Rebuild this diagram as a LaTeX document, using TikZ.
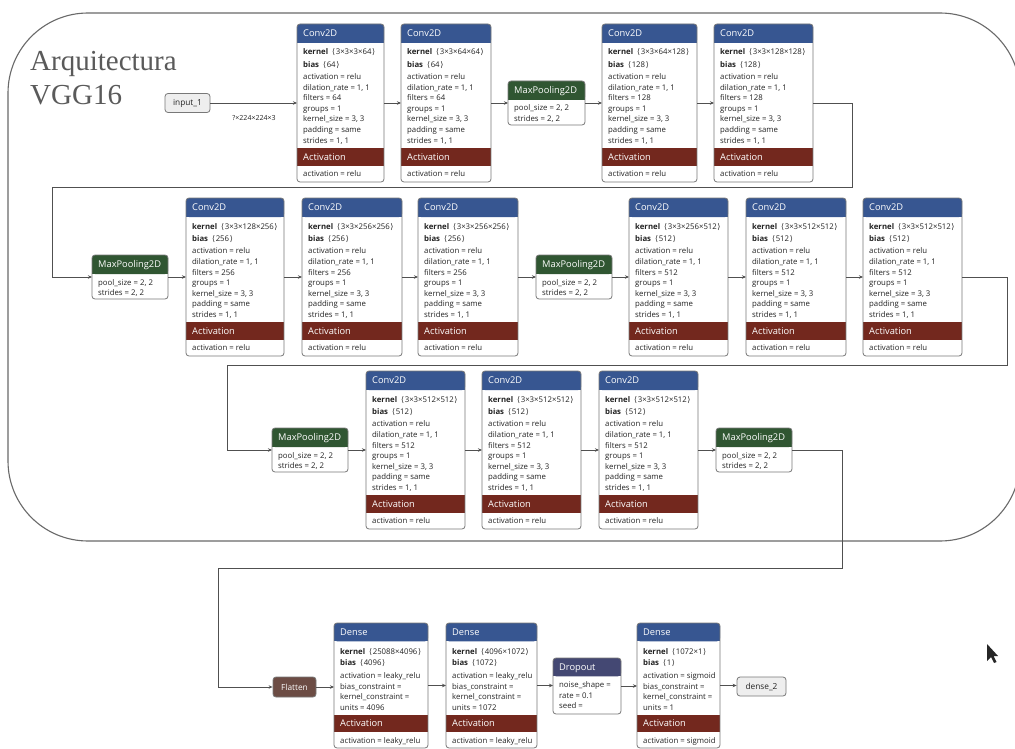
\documentclass[tikz,border=0pt]{standalone}
\usepackage{fontspec}
\setmainfont{Open Sans}
\newfontfamily\titlefont{Liberation Serif}
\newfontfamily\dv{DejaVu Sans}
\usetikzlibrary{arrows.meta}
\definecolor{convc}{RGB}{55,86,145}
\definecolor{actc}{RGB}{115,40,30}
\definecolor{poolc}{RGB}{48,86,50}
\definecolor{dropc}{RGB}{68,72,115}
\definecolor{flatc}{RGB}{108,76,68}
\definecolor{boxc}{RGB}{120,120,120}
\definecolor{txtc}{RGB}{35,35,35}
\definecolor{edgec}{RGB}{80,80,80}
\definecolor{framec}{RGB}{105,105,105}
\definecolor{titlec}{RGB}{90,90,90}
\definecolor{termc}{RGB}{238,238,238}
\tikzset{
 box/.style={draw=boxc, line width=0.8pt, rounded corners=3pt, inner sep=0pt, outer sep=0pt, anchor=north west},
 attr/.style={font=\fontsize{7.8}{9}\selectfont, text=txtc, inner sep=0pt, anchor=base west},
 hdr/.style={font=\fontsize{9.3}{11}\selectfont, text=white, inner sep=0pt, anchor=base west},
 edge/.style={draw=edgec, line width=0.8pt, -{Stealth[length=4pt,width=3.5pt]}},
 term/.style={draw=boxc, fill=termc, line width=0.8pt, rounded corners=3pt, inner sep=0pt, minimum height=19pt, font=\fontsize{8.3}{10}\selectfont, text=txtc},
}
\newcommand\brk[1]{\hspace{2pt}{\dv ⟨}\hspace{0.6pt}#1\hspace{0.6pt}{\dv ⟩}}
\newcommand\convbox[6]{%
 \fill[convc, rounded corners=3pt] (#2,#3) rectangle ++(#4,19);
 \fill[convc] (#2,#3+10) rectangle ++(#4,9);
 \fill[actc] (#2,#3+124.3) rectangle ++(#4,17.7);
 \node[box, minimum width=#4pt, minimum height=158pt] (#1) at (#2,#3) {};
 \node[hdr] (#1-h) at (#2+6,#3+12.8) {Conv2D};
 \node[attr] (#1-k) at (#2+6,#3+31) {\textbf{kernel}~\brk{#5}};
 \node[attr] (#1-b) at (#2+6,#3+43.7) {\textbf{bias}~\brk{#6}};
 \node[attr] (#1-a) at (#2+6,#3+55.4) {activation = relu};
 \node[attr] (#1-d) at (#2+6,#3+66.4) {dilation\_rate = 1, 1};
 \node[attr] (#1-f) at (#2+6,#3+77) {filters = #6};
 \node[attr] (#1-g) at (#2+6,#3+87.4) {groups = 1};
 \node[attr] (#1-s) at (#2+6,#3+98) {kernel\_size = 3, 3};
 \node[attr] (#1-p) at (#2+6,#3+108.7) {padding = same};
 \node[attr] (#1-r) at (#2+6,#3+119.4) {strides = 1, 1};
 \node[hdr] (#1-ah) at (#2+6,#3+136.5) {Activation};
 \node[attr] (#1-av) at (#2+6,#3+152.7) {activation = relu};
}
\newcommand\poolbox[4]{%
 \fill[poolc, rounded corners=3pt] (#2,#3) rectangle ++(#4,19);
 \fill[poolc] (#2,#3+10) rectangle ++(#4,9);
 \node[box, minimum width=#4pt, minimum height=44pt] (#1) at (#2,#3) {};
 \node[hdr] (#1-h) at (#2+6,#3+12.8) {MaxPooling2D};
 \node[attr] (#1-p) at (#2+6,#3+30) {pool\_size = 2, 2};
 \node[attr] (#1-s) at (#2+6,#3+40.7) {strides = 2, 2};
}
\newcommand\densebox[8]{%
 \fill[convc, rounded corners=3pt] (#2,#3) rectangle ++(#4,18.3);
 \fill[convc] (#2,#3+10) rectangle ++(#4,8.3);
 \fill[actc] (#2,#3+91.7) rectangle ++(#4,17.3);
 \node[box, minimum width=#4pt, minimum height=125pt] (#1) at (#2,#3) {};
 \node[hdr] (#1-h) at (#2+6,#3+12.5) {Dense};
 \node[attr] (#1-k) at (#2+6,#3+31.1) {\textbf{kernel}~\brk{#5}};
 \node[attr] (#1-b) at (#2+6,#3+42.7) {\textbf{bias}~\brk{#6}};
 \node[attr] (#1-a) at (#2+6,#3+55) {activation = #7};
 \node[attr] (#1-bc) at (#2+6,#3+66) {bias\_constraint =};
 \node[attr] (#1-kc) at (#2+6,#3+76.7) {kernel\_constraint =};
 \node[attr] (#1-u) at (#2+6,#3+87) {units = #8};
 \node[hdr] (#1-ah) at (#2+6,#3+103.7) {Activation};
 \node[attr] (#1-av) at (#2+6,#3+120.4) {activation = #7};
}
\newcommand\dropbox[4]{%
 \fill[dropc, rounded corners=3pt] (#2,#3) rectangle ++(#4,18.3);
 \fill[dropc] (#2,#3+10) rectangle ++(#4,8.3);
 \node[box, minimum width=#4pt, minimum height=56pt] (#1) at (#2,#3) {};
 \node[hdr] (#1-h) at (#2+6,#3+12.5) {Dropout};
 \node[attr] (#1-n) at (#2+6,#3+29.4) {noise\_shape =};
 \node[attr] (#1-r) at (#2+6,#3+40) {rate = 0.1};
 \node[attr] (#1-s) at (#2+6,#3+50.4) {seed =};
}
\begin{document}
\begin{tikzpicture}[x=1pt,y=-1pt]
\useasboundingbox (0,0) rectangle (1015,749);
\fill[white] (0,0) rectangle (1015,749);
% frame
\draw[framec, line width=1.1pt, rounded corners=80pt] (8,13) rectangle (1020,541);
\node[font=\titlefont\fontsize{29}{34}\selectfont, text=titlec, anchor=base west, inner sep=0pt] (title1) at (30,71) {Arquitectura};
\node[font=\titlefont\fontsize{29}{34}\selectfont, text=titlec, anchor=base west, inner sep=0pt] (title2) at (30,105) {VGG16};
% row 1
\node[term, minimum width=45pt] (in) at (187.5,103) {input\_1};
\convbox{c1}{297}{24}{87}{3×3×3×64}{64}
\convbox{c2}{401}{24}{90}{3×3×64×64}{64}
\poolbox{mp1}{508}{81}{77}
\convbox{c3}{602}{24}{95}{3×3×64×128}{128}
\convbox{c4}{714}{24}{99}{3×3×128×128}{128}
% row 2
\poolbox{mp2}{92}{255}{76}
\convbox{c5}{186}{198}{98}{3×3×128×256}{256}
\convbox{c6}{302}{198}{100}{3×3×256×256}{256}
\convbox{c7}{418}{198}{100}{3×3×256×256}{256}
\poolbox{mp3}{536}{255}{76}
\convbox{c8}{629}{198}{99}{3×3×256×512}{512}
\convbox{c9}{746}{198}{100}{3×3×512×512}{512}
\convbox{c10}{863}{198}{99}{3×3×512×512}{512}
% row 3
\poolbox{mp4}{272}{428}{76}
\convbox{c11}{366}{371}{99}{3×3×512×512}{512}
\convbox{c12}{482}{371}{99}{3×3×512×512}{512}
\convbox{c13}{599}{371}{99}{3×3×512×512}{512}
\poolbox{mp5}{716}{428}{76}
% row 4
\node[term, fill=flatc, text=white, minimum width=43pt, minimum height=20pt] (fl) at (294.5,687) {Flatten};
\densebox{d1}{334}{623}{94}{25088×4096}{4096}{leaky\_relu}{4096}
\densebox{d2}{446}{623}{91}{4096×1072}{1072}{leaky\_relu}{1072}
\dropbox{dr}{553}{658}{68}
\densebox{d3}{637}{623}{83}{1072×1}{1}{sigmoid}{1}
\node[term, minimum width=49pt] (out) at (761.5,686.5) {dense\_2};
% edges
\draw[edge] (in.east) -- (in.east -| c1.west);
\node[font=\fontsize{7}{8}\selectfont, text=txtc, inner sep=0pt] (shape) at (254,118) {?×224×224×3};
\draw[edge] (c1.east) -- (c1.east -| c2.west);
\draw[edge] (c2.east) -- (c2.east -| mp1.west);
\draw[edge] (mp1.east) -- (mp1.east -| c3.west);
\draw[edge] (c3.east) -- (c3.east -| c4.west);
\coordinate (r1a) at (852,187);
\coordinate (r1b) at (52,187);
\draw[edge] (c4.east) -| (r1a) -- (r1b) |- (mp2.west);
\draw[edge] (mp2.east) -- (mp2.east -| c5.west);
\draw[edge] (c5.east) -- (c5.east -| c6.west);
\draw[edge] (c6.east) -- (c6.east -| c7.west);
\draw[edge] (c7.east) -- (c7.east -| mp3.west);
\draw[edge] (mp3.east) -- (mp3.east -| c8.west);
\draw[edge] (c8.east) -- (c8.east -| c9.west);
\draw[edge] (c9.east) -- (c9.east -| c10.west);
\coordinate (r2a) at (1007,365);
\coordinate (r2b) at (227,365);
\draw[edge] (c10.east) -| (r2a) -- (r2b) |- (mp4.west);
\draw[edge] (mp4.east) -- (mp4.east -| c11.west);
\draw[edge] (c11.east) -- (c11.east -| c12.west);
\draw[edge] (c12.east) -- (c12.east -| c13.west);
\draw[edge] (c13.east) -- (c13.east -| mp5.west);
\coordinate (r3a) at (842,568);
\coordinate (r3b) at (218,568);
\draw[edge] (mp5.east) -| (r3a) -- (r3b) |- (fl.west);
\draw[edge] (fl.east) -- (fl.east -| d1.west);
\draw[edge] (d1.east) -- (d1.east -| d2.west);
\draw[edge] (d2.east) -- (d2.east -| dr.west);
\draw[edge] (dr.east) -- (dr.east -| d3.west);
\draw[edge] (d3.east) -- (d3.east -| out.west);
% mouse pointer
\fill[black!85] (987,644) -- (987,661) -- (991,657) -- (994,663) -- (996.5,662) -- (993.5,656) -- (998,656) -- cycle;
\end{tikzpicture}
\end{document}
